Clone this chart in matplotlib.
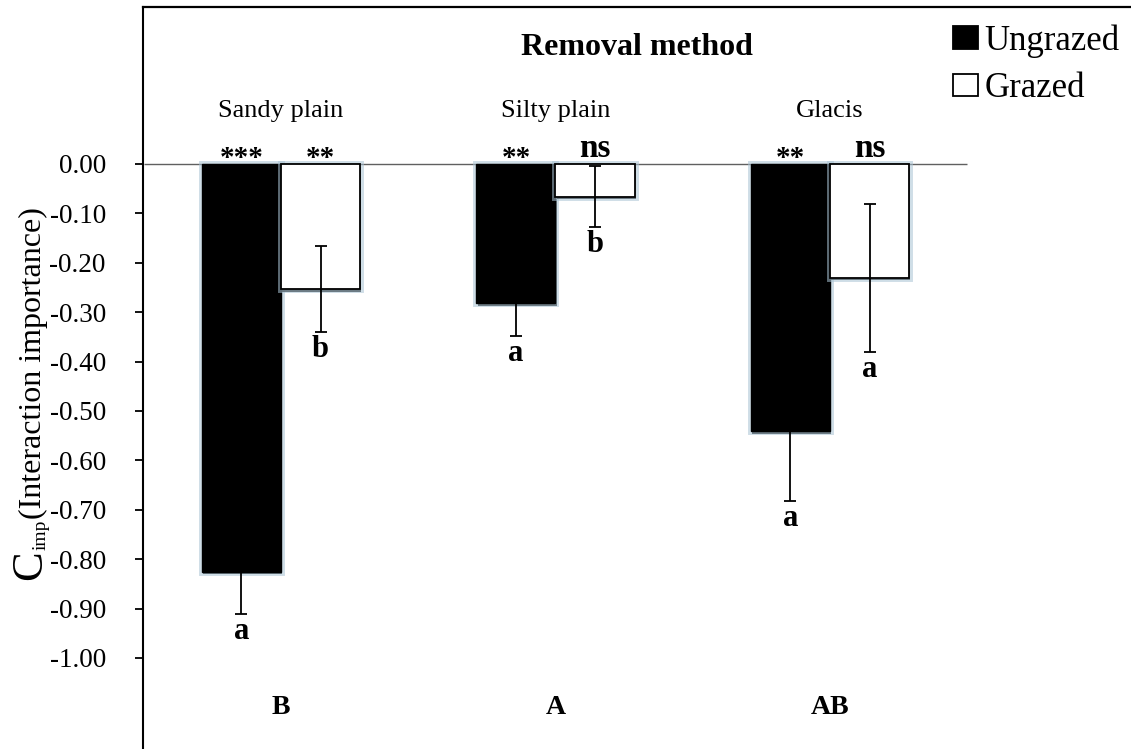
import matplotlib
matplotlib.use('Agg')
import matplotlib.pyplot as plt
import matplotlib.patheffects as pe
from matplotlib.patches import Patch
import numpy as np

# ---------------- data ----------------
sites = ['Sandy plain', 'Silty plain', 'Glacis']
site_letters = ['B', 'A', 'AB']
ungrazed = [-0.825, -0.281, -0.540]
ungrazed_se = [0.086, 0.068, 0.142]
grazed = [-0.253, -0.066, -0.230]
grazed_se = [0.087, 0.061, 0.150]
ungrazed_sig = ['***', '**', '**']
grazed_sig = ['**', 'ns', 'ns']
ungrazed_letters = ['a', 'a', 'a']
grazed_letters = ['b', 'b', 'a']
ytick_vals = [0.0, -0.1, -0.2, -0.3, -0.4, -0.5, -0.6, -0.7, -0.8, -0.9, -1.0]
ytick_labels = ['0.00', '-0.10', '-0.20', '-0.30', '-0.40', '-0.50',
                '-0.60', '-0.70', '-0.80', '-0.90', '-1.00']
legend_labels = ['Ungrazed', 'Grazed']
title = 'Removal method'

# ---------------- layout ----------------
W, H, DPI = 1131, 749, 100
FONT = 'Liberation Serif'
plt.rcParams['font.family'] = [FONT, 'DejaVu Serif']

fig = plt.figure(figsize=(W / DPI, H / DPI), dpi=DPI)

def fx(px):
    return px / W

def fy(py):
    return 1 - py / H

left_px, right_px, top_px, bot_px = 143, 1140, 7, 760
ax = fig.add_axes([fx(left_px), fy(bot_px), (right_px - left_px) / W, (bot_px - top_px) / H])

x = np.arange(len(sites))
bw = 0.288
ax.set_xlim(-0.5027, 3.1293)
ax.set_ylim(-1.2065, 0.3178)

glow = [pe.SimplePatchShadow(offset=(1, -2), shadow_rgbFace='black', alpha=0.85),
        pe.Stroke(linewidth=5, foreground='#a9c3d4', alpha=0.55),
        pe.Normal()]

# category (zero) axis spanning the plot area
ax.hlines(0, -0.5, len(sites) - 0.5, color='#606060', lw=1.0, zorder=2)

b1 = ax.bar(x - bw / 2, ungrazed, bw, color='black', edgecolor='black', lw=1.0, zorder=3)
b2 = ax.bar(x + bw / 2, grazed, bw, color='white', edgecolor='black', lw=1.3, zorder=3)
for p in list(b1) + list(b2):
    p.set_path_effects(glow)

ekw = dict(fmt='none', ecolor='black', elinewidth=1.3, capsize=4.5, capthick=1.3, zorder=5)
ax.errorbar(x - bw / 2, ungrazed, yerr=ungrazed_se, **ekw)
ax.errorbar(x + bw / 2, grazed, yerr=grazed_se, **ekw)

# significance marks above bars
for xs, sigs in ((x - bw / 2, ungrazed_sig), (x + bw / 2, grazed_sig)):
    for xi, s in zip(xs, sigs):
        off = 7 if s == 'ns' else -2
        size = 24 if s == 'ns' else 21
        ax.annotate(s, (xi, 0), xytext=(0, off * 0.72), textcoords='offset points',
                    ha='center', va='baseline', fontsize=size, fontweight='bold', zorder=6)

# letters below error bars
for xs, vals, ses, lets in ((x - bw / 2, ungrazed, ungrazed_se, ungrazed_letters),
                            (x + bw / 2, grazed, grazed_se, grazed_letters)):
    for xi, v, se, l in zip(xs, vals, ses, lets):
        ax.annotate(l, (xi, v - se), xytext=(0, -25 * 0.72), textcoords='offset points',
                    ha='center', va='baseline', fontsize=22, fontweight='bold', zorder=6)

# site names and site-level letters
for xi, s in zip(x, sites):
    ax.text(xi, 0.095, s, ha='center', va='baseline', fontsize=19)
for xi, s in zip(x, site_letters):
    ax.text(xi, -1.113, s, ha='center', va='baseline', fontsize=20, fontweight='bold')

fig.text(fx(637), fy(55), title, ha='center', va='baseline', fontsize=23, fontweight='bold')

# axes styling
ax.set_yticks(ytick_vals)
ax.set_yticklabels(ytick_labels)
ax.set_xticks([])
ax.tick_params(axis='y', direction='out', length=5.8, width=1.3, pad=21, labelsize=19.5)
for sp in ('right', 'bottom'):
    ax.spines[sp].set_visible(False)
ax.spines['left'].set_linewidth(1.5)
ax.spines['top'].set_linewidth(1.6)

# y-axis label (C with subscript, then description)
fig.text(fx(41), fy(580), 'C', rotation=90, rotation_mode='anchor', ha='left', va='baseline', fontsize=32)
fig.text(fx(46), fy(550), 'imp', rotation=90, rotation_mode='anchor', ha='left', va='baseline', fontsize=14)
fig.text(fx(41), fy(519), '(Interaction importance)', rotation=90, rotation_mode='anchor',
         ha='left', va='baseline', fontsize=23)

# legend
handles = [Patch(facecolor='black', edgecolor='black', lw=1.3),
           Patch(facecolor='white', edgecolor='black', lw=1.3)]
fig.legend(handles, legend_labels, loc='upper left', bbox_to_anchor=(fx(953), fy(24)),
           frameon=False, fontsize=25, handlelength=0.714, handleheight=0.63,
           handletextpad=0.2, labelspacing=0.42, borderpad=0, borderaxespad=0)

fig.savefig('out.png', dpi=DPI)
